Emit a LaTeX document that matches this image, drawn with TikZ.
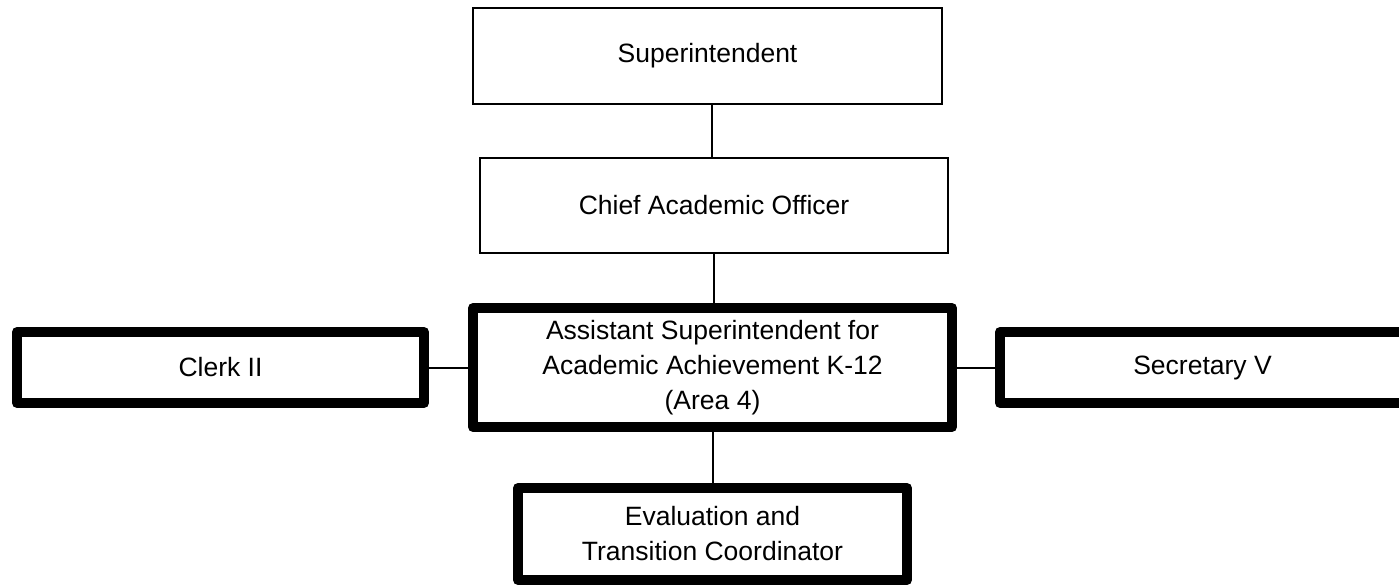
\documentclass[tikz,border=0pt]{standalone}
\usepackage{fontspec}
\setmainfont{Liberation Sans}
\begin{document}
\begin{tikzpicture}[x=1pt,y=-1pt,
  thinbox/.style={draw=black,line width=2.5pt,fill=white,rectangle,inner sep=0pt,align=center,
    font=\fontsize{26.5}{35}\selectfont},
  thickbox/.style={draw=black,line width=10pt,line join=round,fill=white,rectangle,inner sep=0pt,align=center,
    font=\fontsize{26.5}{35}\selectfont},
  conn/.style={draw=black,line width=2pt}]
\clip (0,0) rectangle (1399,585);
\fill[white] (0,0) rectangle (1399,585);
\node[thinbox,minimum width=469pt,minimum height=96pt] (sup) at (707.5,56) {Superintendent};
\node[thinbox,minimum width=468pt,minimum height=95pt] (chief) at (714,205.5) {Chief Academic Officer};
\node[thickbox,minimum width=479pt,minimum height=119pt] (asst) at (712.5,367.5) {Assistant Superintendent for\\Academic Achievement K-12\\(Area 4)};
\node[thickbox,minimum width=407pt,minimum height=71pt] (clerk) at (220.5,367.5) {Clerk II};
\node[thickbox,minimum width=405pt,minimum height=71pt] (sec) at (1202.5,367.5) {Secretary V};
\node[thickbox,minimum width=389pt,minimum height=92pt] (eval) at (712.5,534) {Evaluation and\\Transition Coordinator};
\draw[conn] (chief.north) ++(-2,0) coordinate (c1) -- (c1 |- sup.south);
\draw[conn] (chief.south) -- (chief.south |- asst.north);
\draw[conn] (asst.south) -- (eval.north);
\draw[conn] (clerk.east) -- (asst.west);
\draw[conn] (asst.east) -- (sec.west);
\end{tikzpicture}
\end{document}
